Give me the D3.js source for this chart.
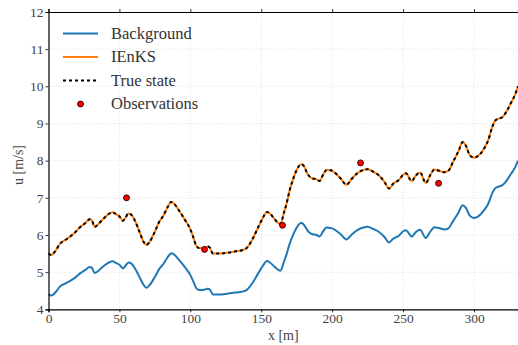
<!DOCTYPE html>
<html>
<head>
<meta charset="utf-8">
<script src="https://cdn.jsdelivr.net/npm/d3@7"></script>
<style>
  body { margin: 0; background: #fff; }
  svg text { font-family: "Liberation Serif", "DejaVu Serif", serif; }
</style>
</head>
<body>
<div id="app"></div>
<script>

// ---------- Data ----------

const xPos = [0, 2, 5, 8, 12, 15, 19, 22, 26, 29, 30.5, 32.5, 34, 37, 41, 45, 48, 50, 52.5, 54,
  56.5, 58.5, 61, 64, 67, 69, 71, 75, 78, 81, 84, 86.5, 88, 92, 96, 100, 102, 104, 106, 109,
  112, 113.5, 116, 120, 126, 132, 138, 140, 144, 148, 151, 154, 156, 159, 162, 163.5, 166, 168, 170, 172,
  175, 178, 179.5, 183, 186, 189, 191, 194, 196, 199, 202, 206, 210, 214, 218, 222, 225, 229, 233, 237,
  240, 243, 247, 250, 252, 256, 259, 262, 266, 269, 272, 276, 279, 282, 285, 289, 292, 294, 297, 300,
  303, 307, 310, 313, 315, 318, 320, 323, 326, 329, 331];

const trueState = [5.50, 5.46, 5.58, 5.76, 5.87, 5.95, 6.08, 6.20, 6.32, 6.42, 6.40, 6.22, 6.25, 6.37, 6.52, 6.61, 6.55, 6.50, 6.38, 6.45,
  6.58, 6.54, 6.38, 6.10, 5.82, 5.73, 5.80, 6.09, 6.35, 6.52, 6.75, 6.89, 6.86, 6.66, 6.42, 6.15, 5.95, 5.72, 5.65, 5.65,
  5.69, 5.67, 5.50, 5.50, 5.52, 5.56, 5.61, 5.66, 5.90, 6.22, 6.45, 6.62, 6.58, 6.45, 6.32, 6.30, 6.60, 6.87, 7.20, 7.45,
  7.75, 7.90, 7.88, 7.62, 7.52, 7.50, 7.45, 7.65, 7.75, 7.74, 7.67, 7.52, 7.35, 7.52, 7.67, 7.75, 7.77, 7.70, 7.60, 7.42,
  7.25, 7.38, 7.48, 7.62, 7.66, 7.45, 7.60, 7.68, 7.40, 7.60, 7.76, 7.72, 7.69, 7.73, 7.95, 8.25, 8.50, 8.42, 8.15, 8.08,
  8.13, 8.32, 8.55, 8.92, 9.08, 9.14, 9.17, 9.33, 9.55, 9.78, 10.00];

// analysis lies on top of the truth
const ienks = [5.50, 5.46, 5.58, 5.76, 5.87, 5.95, 6.08, 6.20, 6.32, 6.42, 6.40, 6.22, 6.25, 6.37, 6.52, 6.61, 6.55, 6.50, 6.38, 6.45,
  6.58, 6.54, 6.38, 6.10, 5.82, 5.73, 5.80, 6.09, 6.35, 6.52, 6.75, 6.89, 6.86, 6.66, 6.42, 6.15, 5.95, 5.72, 5.65, 5.65,
  5.69, 5.67, 5.50, 5.50, 5.52, 5.56, 5.61, 5.66, 5.90, 6.22, 6.45, 6.62, 6.58, 6.45, 6.32, 6.30, 6.60, 6.87, 7.20, 7.45,
  7.75, 7.90, 7.88, 7.62, 7.52, 7.50, 7.45, 7.65, 7.75, 7.74, 7.67, 7.52, 7.35, 7.52, 7.67, 7.75, 7.77, 7.70, 7.60, 7.42,
  7.25, 7.38, 7.48, 7.62, 7.66, 7.45, 7.60, 7.68, 7.40, 7.60, 7.76, 7.72, 7.69, 7.73, 7.95, 8.25, 8.50, 8.42, 8.15, 8.08,
  8.13, 8.32, 8.55, 8.92, 9.08, 9.14, 9.17, 9.33, 9.55, 9.78, 10.00];

const background = [4.40, 4.37, 4.46, 4.61, 4.70, 4.76, 4.86, 4.96, 5.06, 5.14, 5.12, 4.98, 5.00, 5.10, 5.22, 5.29, 5.24, 5.20, 5.10, 5.16,
  5.26, 5.23, 5.10, 4.88, 4.66, 4.58, 4.64, 4.87, 5.08, 5.22, 5.40, 5.51, 5.49, 5.33, 5.14, 4.92, 4.76, 4.58, 4.52, 4.52,
  4.55, 4.54, 4.40, 4.40, 4.42, 4.45, 4.49, 4.53, 4.72, 4.98, 5.16, 5.30, 5.26, 5.16, 5.06, 5.04, 5.28, 5.50, 5.76, 5.96,
  6.20, 6.32, 6.30, 6.10, 6.02, 6.00, 5.96, 6.12, 6.20, 6.19, 6.14, 6.02, 5.88, 6.02, 6.14, 6.20, 6.22, 6.16, 6.08, 5.94,
  5.80, 5.90, 5.98, 6.10, 6.13, 5.96, 6.08, 6.14, 5.92, 6.08, 6.21, 6.18, 6.15, 6.18, 6.36, 6.60, 6.80, 6.74, 6.52, 6.46,
  6.50, 6.66, 6.84, 7.14, 7.26, 7.31, 7.34, 7.46, 7.64, 7.82, 8.00];

const obsX = [55, 110, 165, 220, 275];
const obsY = [7.00, 5.61, 6.26, 7.94, 7.39];

const xTicks = [0, 50, 100, 150, 200, 250, 300];
const yTicks = [4, 5, 6, 7, 8, 9, 10, 11, 12];

const legendNames = ["Background", "IEnKS", "True state", "Observations"];


// ---------- Layout ----------

const WIDTH = 518;
const HEIGHT = 345;
const LEFT = 48.5, RIGHT = 518, TOP = 12, BOTTOM = 309.3;
const FONT = "'Liberation Serif', 'DejaVu Serif', serif";

const svg = d3.select("#app").append("svg")
    .attr("width", WIDTH)
    .attr("height", HEIGHT);

const x = d3.scaleLinear().domain([0, 331]).range([LEFT, RIGHT]);
const y = d3.scaleLinear().domain([4, 12]).range([BOTTOM, TOP]);


// ---------- Grid ----------

const grid = svg.append("g")
    .attr("stroke", "#d9d9d9")
    .attr("stroke-width", 0.8)
    .attr("stroke-dasharray", "1,2");
grid.selectAll(".gx").data(xTicks.slice(1)).enter().append("line")
    .attr("x1", d => x(d)).attr("x2", d => x(d))
    .attr("y1", TOP).attr("y2", BOTTOM);
grid.selectAll(".gy").data(yTicks.slice(1, -1)).enter().append("line")
    .attr("x1", LEFT).attr("x2", RIGHT)
    .attr("y1", d => y(d)).attr("y2", d => y(d));


// ---------- Lines ----------

const pts = vals => xPos.map((d, i) => [d, vals[i]]);
const line = d3.line()
    .x(d => x(d[0]))
    .y(d => y(d[1]))
    .curve(d3.curveMonotoneX);

svg.append("path")
    .attr("d", line(pts(background)))
    .attr("fill", "none")
    .attr("stroke", "#1f77b4")
    .attr("stroke-width", 2);

svg.append("path")
    .attr("d", line(pts(ienks)))
    .attr("fill", "none")
    .attr("stroke", "#ff7f0e")
    .attr("stroke-width", 2);

svg.append("path")
    .attr("d", line(pts(trueState)))
    .attr("fill", "none")
    .attr("stroke", "#000")
    .attr("stroke-width", 2)
    .attr("stroke-dasharray", "3,3");

svg.selectAll(".obs").data(obsX).enter().append("circle")
    .attr("cx", d => x(d))
    .attr("cy", (d, i) => y(obsY[i]))
    .attr("r", 3)
    .attr("fill", "#ff0000")
    .attr("stroke", "#000")
    .attr("stroke-width", 0.8);


// ---------- Axes ----------

const axisB = svg.append("g")
    .attr("transform", `translate(0, ${BOTTOM})`)
    .call(d3.axisBottom(x).tickValues(xTicks).tickSize(3).tickPadding(1.5));
const axisL = svg.append("g")
    .attr("transform", `translate(${LEFT}, 0)`)
    .call(d3.axisLeft(y).tickValues(yTicks).tickSize(3).tickPadding(2));
const axisT = svg.append("g")
    .attr("transform", `translate(0, ${TOP})`)
    .call(d3.axisTop(x).tickValues(xTicks).tickSize(3).tickFormat(""));

[axisB, axisL, axisT].forEach(a => {
    a.attr("font-family", FONT);
    a.select(".domain").attr("stroke", "#000").attr("stroke-width", 1.2);
    a.selectAll(".tick line").attr("stroke", "#000").attr("stroke-width", 0.8);
    a.selectAll(".tick text")
        .attr("fill", "#444")
        .style("font-size", "13.5px");
});

svg.append("text")
    .attr("x", (LEFT + RIGHT) / 2)
    .attr("y", 340)
    .attr("text-anchor", "middle")
    .attr("fill", "#444")
    .style("font-size", "14px")
    .text("x [m]");

svg.append("text")
    .attr("transform", `translate(23, 165) rotate(-90)`)
    .attr("text-anchor", "middle")
    .attr("fill", "#444")
    .style("font-size", "14px")
    .text("u [m/s]");


// ---------- Legend ----------

const legend = svg.append("g");
const rowY = i => 33.5 + i * 23.5;

legend.append("line")
    .attr("x1", 63).attr("x2", 98).attr("y1", rowY(0)).attr("y2", rowY(0))
    .attr("stroke", "#1f77b4").attr("stroke-width", 2);
legend.append("line")
    .attr("x1", 63).attr("x2", 98).attr("y1", rowY(1)).attr("y2", rowY(1))
    .attr("stroke", "#ff7f0e").attr("stroke-width", 2);
legend.append("line")
    .attr("x1", 63).attr("x2", 98).attr("y1", rowY(2)).attr("y2", rowY(2))
    .attr("stroke", "#000").attr("stroke-width", 2).attr("stroke-dasharray", "3,3");
legend.append("circle")
    .attr("cx", 80.5).attr("cy", rowY(3)).attr("r", 3)
    .attr("fill", "#ff0000").attr("stroke", "#000").attr("stroke-width", 0.8);

legend.selectAll("text").data(legendNames).enter().append("text")
    .attr("x", 111)
    .attr("y", (d, i) => rowY(i) + 5)
    .attr("fill", "#333")
    .style("font-size", "16.5px")
    .text(d => d);

</script>
</body>
</html>
